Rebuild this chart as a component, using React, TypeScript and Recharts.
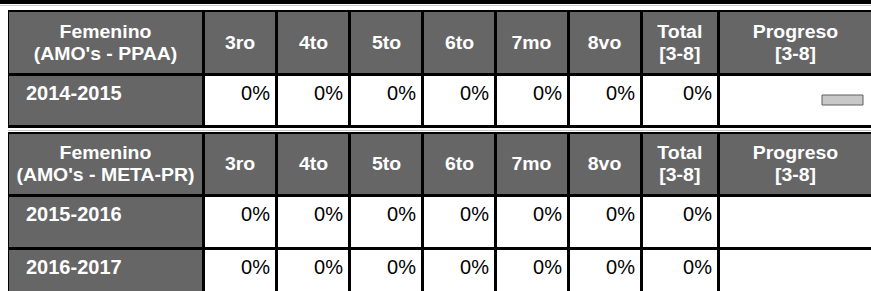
import React from 'react';
import { BarChart, Bar, XAxis, YAxis, ReferenceArea } from 'recharts';

const grades = ['3ro', '4to', '5to', '6to', '7mo', '8vo'];
const totalLabel = ['Total', '[3-8]'];
const progressLabel = ['Progreso', '[3-8]'];

const ppaaTitle = ['Femenino', "(AMO's - PPAA)"];
const ppaaYears = ['2014-2015'];
const ppaaValues = [[0, 0, 0, 0, 0, 0]];
const ppaaTotals = [0];
const ppaaProgress = [0];

const metaTitle = ['Femenino', "(AMO's - META-PR)"];
const metaYears = ['2015-2016', '2016-2017'];
const metaValues = [
  [0, 0, 0, 0, 0, 0],
  [0, 0, 0, 0, 0, 0],
];
const metaTotals = [0, 0];

const COLS = '193px 70px 70px 70px 70px 70px 70px 74px 151px';
const GRAY = '#666666';
const FONT = '"Liberation Sans", Arial, sans-serif';

const headCell: React.CSSProperties = {
  background: GRAY,
  color: '#fff',
  fontWeight: 700,
  fontSize: 18,
  lineHeight: '22px',
  display: 'flex',
  alignItems: 'center',
  justifyContent: 'center',
  textAlign: 'center',
};

const yearCell: React.CSSProperties = {
  background: GRAY,
  color: '#fff',
  fontWeight: 700,
  fontSize: 20,
  padding: '6px 0 0 17px',
};

const valueCell: React.CSSProperties = {
  background: '#fff',
  color: '#000',
  fontSize: 20,
  textAlign: 'right',
  padding: '6px 5px 0 0',
};

const Head: React.FC<{ lines: string[] }> = ({ lines }) => (
  <div style={headCell}>
    <span style={{ display: 'inline-block', transform: 'scaleX(1.08)', whiteSpace: 'nowrap' }}>
      {lines.map((l, i) => (
        <div key={i}>{l}</div>
      ))}
    </span>
  </div>
);

// small track bar shown in the "Progreso" cell
const ProgressBar: React.FC<{ value: number; name: string }> = ({ value, name }) => (
  <div style={{ position: 'absolute', left: 101, top: 18, width: 43, height: 12 }}>
    <BarChart
      width={43}
      height={12}
      layout="vertical"
      data={[{ name, value }]}
      margin={{ top: 1, right: 1, bottom: 1, left: 1 }}
      barCategoryGap={0}
    >
      <XAxis type="number" dataKey="value" domain={[0, 100]} hide />
      <YAxis type="category" dataKey="name" hide />
      <ReferenceArea
        x1={0}
        x2={100}
        fill="#c8c8c8"
        fillOpacity={1}
        stroke="#5e5e5e"
        strokeWidth={1}
        ifOverflow="visible"
      />
      <Bar dataKey="value" fill="#4a4a4a" isAnimationActive={false} />
    </BarChart>
  </div>
);

interface TableProps {
  top: number;
  title: string[];
  years: string[];
  values: number[][];
  totals: number[];
  progress?: number[];
  headH: number;
  rowH: number[];
}

const GradeTable: React.FC<TableProps> = ({ top, title, years, values, totals, progress, headH, rowH }) => (
  <div
    style={{
      position: 'absolute',
      left: 8,
      top,
      background: '#000',
      padding: '2px 0 3px 1px',
      display: 'grid',
      gridTemplateColumns: COLS,
      gridTemplateRows: [headH, ...rowH].map((h) => `${h}px`).join(' '),
      gap: 3,
      fontFamily: FONT,
    }}
  >
    <Head lines={title} />
    {grades.map((g) => (
      <Head key={g} lines={[g]} />
    ))}
    <Head lines={totalLabel} />
    <Head lines={progressLabel} />
    {years.map((y, r) => (
      <React.Fragment key={y}>
        <div style={yearCell}>{y}</div>
        {values[r].map((v, c) => (
          <div key={c} style={valueCell}>
            {v}%
          </div>
        ))}
        <div style={valueCell}>{totals[r]}%</div>
        <div style={{ background: '#fff', position: 'relative' }}>
          {progress && <ProgressBar value={progress[r]} name={y} />}
        </div>
      </React.Fragment>
    ))}
  </div>
);

export default function App() {
  return (
    <div
      style={{
        position: 'fixed',
        left: 0,
        top: 0,
        width: 871,
        height: 291,
        overflow: 'hidden',
        background: '#fff',
      }}
    >
      <div style={{ position: 'absolute', left: 0, top: 0, width: 871, height: 4, background: '#000' }} />
      <div style={{ position: 'absolute', left: 0, top: 5, width: 871, height: 1, background: '#c8c8c8' }} />
      <GradeTable
        top={10}
        title={ppaaTitle}
        years={ppaaYears}
        values={ppaaValues}
        totals={ppaaTotals}
        progress={ppaaProgress}
        headH={61}
        rowH={[49]}
      />
      <div style={{ position: 'absolute', left: 8, top: 130, width: 863, height: 1, background: '#c8c8c8' }} />
      <GradeTable
        top={132}
        title={metaTitle}
        years={metaYears}
        values={metaValues}
        totals={metaTotals}
        headH={60}
        rowH={[50, 50]}
      />
    </div>
  );
}
